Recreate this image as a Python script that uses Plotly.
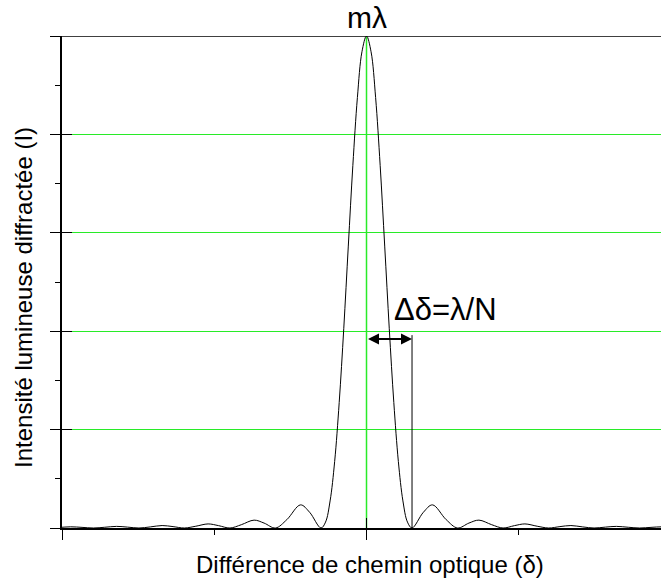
import plotly.graph_objects as go

# path difference in units of lambda/N, intensity normalised to the main peak
delta_right = [0.0, 0.1, 0.2, 0.3, 0.4, 0.5, 0.6, 0.7, 0.8, 0.9, 1.0,
               1.25, 1.45, 1.75, 2.0, 2.25, 2.47, 2.75, 3.0,
               3.25, 3.48, 3.75, 4.0, 4.25, 4.49, 4.75, 5.0,
               5.25, 5.49, 5.75, 6.0, 6.25, 6.5, 6.75, 7.0]
intensity_right = [1.0, 0.968, 0.875, 0.737, 0.573, 0.405, 0.255, 0.135, 0.055, 0.012, 0.0,
                   0.032, 0.047, 0.017, 0.0, 0.010, 0.016, 0.0067, 0.0,
                   0.0048, 0.0083, 0.0036, 0.0, 0.0028, 0.0050, 0.0022, 0.0,
                   0.0018, 0.0033, 0.0015, 0.0, 0.0013, 0.0024, 0.0011, 0.0]

delta = [-d for d in delta_right[:0:-1]] + delta_right
intensity = intensity_right[:0:-1] + intensity_right

x_range = [-6.69, 6.47]
x_major = [-6.68, 0.0, 6.68]
x_minor = [-3.34, 3.34]
y_major = [0.0, 0.2, 0.4, 0.6, 0.8, 1.0]
y_minor = [0.1, 0.3, 0.5, 0.7, 0.9]

peak_pos = 0.0
first_zero = 1.0
arrow_level = 0.384
marker_top = 0.392

GREEN = "rgb(40,235,40)"
FONT = "Liberation Sans, Arial, sans-serif"
W, H = 661, 578
ML, MT, MB = 62, 36, 50

fig = go.Figure()
fig.add_trace(go.Scatter(x=delta, y=intensity, mode="lines",
                         line=dict(color="black", width=1, shape="spline", smoothing=1),
                         hoverinfo="skip", showlegend=False))
# invisible copy so the overlay axes (inside half of the crossing ticks) are drawn
fig.add_trace(go.Scatter(x=delta, y=intensity, mode="lines", xaxis="x2", yaxis="y2",
                         line=dict(color="rgba(0,0,0,0)", width=1),
                         hoverinfo="skip", showlegend=False))

common_x = dict(range=x_range, showgrid=False, zeroline=False, showticklabels=False,
                tickmode="array", tickvals=x_major, ticklen=10, tickcolor="black", tickwidth=1,
                minor=dict(tickmode="array", tickvals=x_minor, ticklen=5,
                           tickcolor="black", tickwidth=1, showgrid=False))
common_y = dict(range=[0, 1], zeroline=False, showticklabels=False,
                tickmode="array", tickvals=y_major, ticklen=10, tickcolor="black", tickwidth=1,
                minor=dict(tickmode="array", tickvals=y_minor, ticklen=5,
                           tickcolor="black", tickwidth=1, showgrid=False))

fig.update_layout(
    width=W, height=H,
    margin=dict(l=ML, r=0, t=MT, b=MB),
    plot_bgcolor="white", paper_bgcolor="white",
    xaxis=dict(**common_x, ticks="outside", showline=True, linecolor="black", linewidth=2),
    yaxis=dict(**common_y, ticks="outside", showline=True, linecolor="black", linewidth=2,
               showgrid=True, gridcolor=GREEN, gridwidth=1),
    xaxis2=dict(**common_x, ticks="inside", overlaying="x", anchor="y", showline=False),
    yaxis2=dict(**common_y, ticks="inside", overlaying="y", anchor="x", showline=False,
                showgrid=False),
    font=dict(family=FONT, color="black"),
)

fig.add_shape(type="line", xref="x", yref="y", x0=peak_pos, x1=peak_pos, y0=0, y1=1,
              line=dict(color=GREEN, width=1.5), layer="below")
fig.add_shape(type="line", xref="paper", yref="y", x0=0, x1=1, y0=1, y1=1,
              line=dict(color="black", width=1.5))
fig.add_shape(type="line", xref="x", yref="y", x0=first_zero, x1=first_zero, y0=0, y1=marker_top,
              line=dict(color="black", width=1))

fig.add_annotation(x=first_zero, y=arrow_level, ax=peak_pos, ay=arrow_level,
                   xref="x", yref="y", axref="x", ayref="y", text="",
                   showarrow=True, arrowside="end+start", arrowhead=2, arrowsize=1.1,
                   arrowwidth=2, arrowcolor="black")
fig.add_annotation(x=peak_pos, y=1, xref="x", yref="y", text="mλ",
                   showarrow=False, xanchor="center", yanchor="bottom", font=dict(size=30))
fig.add_annotation(x=0.55, y=0.445, xref="x", yref="y", text="Δδ=λ/N",
                   xanchor="left", yanchor="middle", showarrow=False, font=dict(size=31))

# axis titles placed in page pixels, converted to paper coordinates
plot_w, plot_h = W - ML, H - MT - MB


def paper_x(px):
    return (px - ML) / plot_w


def paper_y(py):
    return (H - MB - py) / plot_h


fig.add_annotation(x=paper_x(370), y=paper_y(564), xref="paper", yref="paper",
                   xanchor="center", yanchor="middle",
                   text="Différence de chemin optique (δ)", showarrow=False, font=dict(size=24))
fig.add_annotation(x=paper_x(23), y=paper_y(298), xref="paper", yref="paper",
                   xanchor="center", yanchor="middle", textangle=-90,
                   text="Intensité lumineuse diffractée (I)", showarrow=False, font=dict(size=24))

fig.write_html("out.html", config={"displayModeBar": False},
               post_script="document.body.style.margin='0px';")
